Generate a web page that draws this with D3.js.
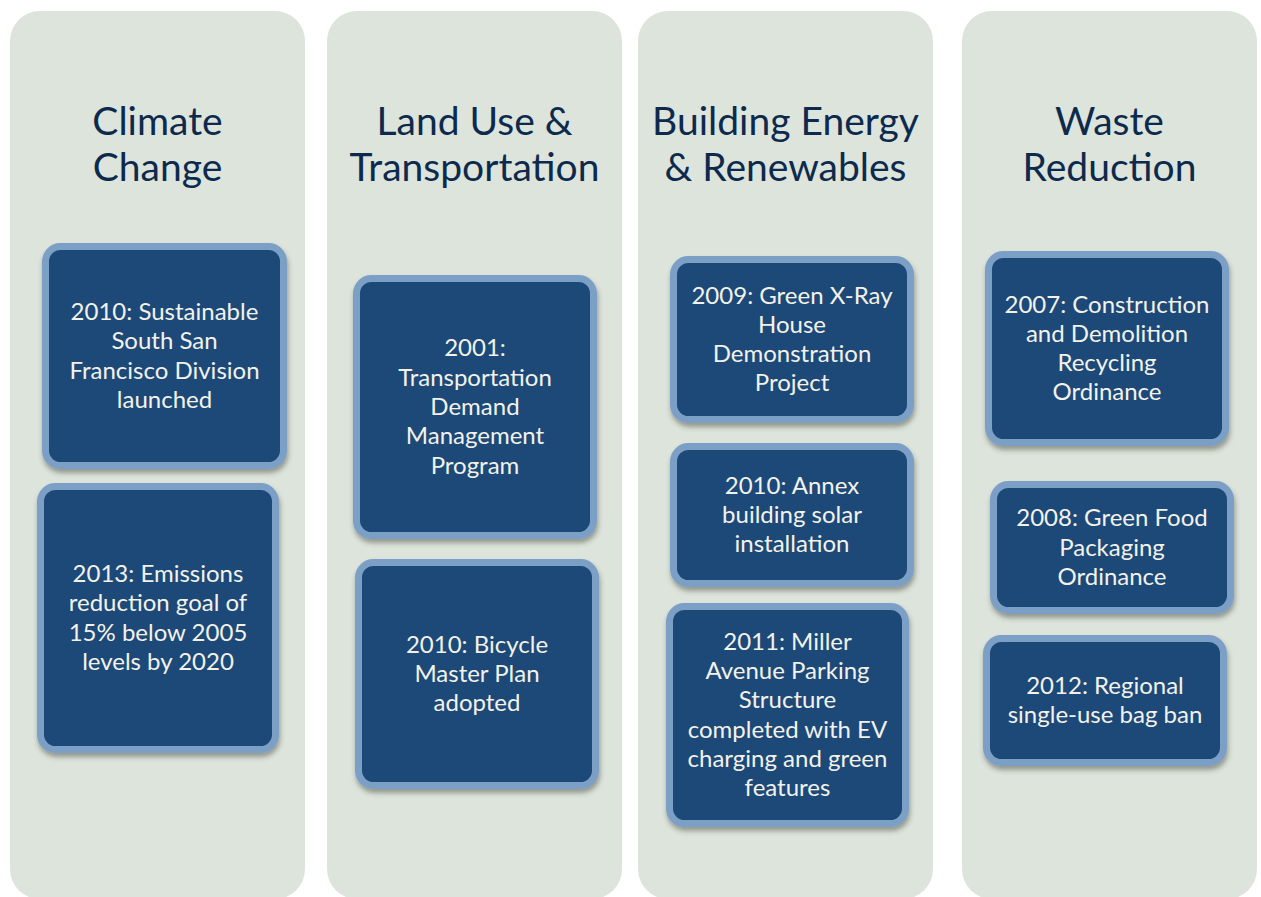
<!DOCTYPE html>
<html>
<head>
<meta charset="utf-8">
<script src="https://cdn.jsdelivr.net/npm/d3@7"></script>
<style>
  html, body { margin: 0; padding: 0; background: #fff; }
  svg { display: block; }
</style>
</head>
<body>
<div id="chart"></div>
<script>
// column titles and the milestones under them (lines broken as in the slide)
const categories = [
  ["Climate", "Change"],
  ["Land Use &", "Transportation"],
  ["Building Energy", "& Renewables"],
  ["Waste", "Reduction"]
];

const climate = [
  ["2010: Sustainable", "South San", "Francisco Division", "launched"],
  ["2013: Emissions", "reduction goal of", "15% below 2005", "levels by 2020"]
];
const landUse = [
  ["2001:", "Transportation", "Demand", "Management", "Program"],
  ["2010: Bicycle", "Master Plan", "adopted"]
];
const building = [
  ["2009: Green X-Ray", "House", "Demonstration", "Project"],
  ["2010: Annex", "building solar", "installation"],
  ["2011: Miller", "Avenue Parking", "Structure", "completed with EV", "charging and green", "features"]
];
const waste = [
  ["2007: Construction", "and Demolition", "Recycling", "Ordinance"],
  ["2008: Green Food", "Packaging", "Ordinance"],
  ["2012: Regional", "single-use bag ban"]
];
const milestones = [climate, landUse, building, waste];

// layout (outer box edges, px) kept apart from the data
const panelLeft = [10, 327, 638, 962];
const panelW = 295, panelTop = 11, panelBottom = 899;
const boxLayout = [
  [[42, 243, 287, 469], [37, 483, 279, 753]],
  [[353, 275, 597, 539], [355, 559, 599, 789]],
  [[670, 256, 914, 423], [670, 443, 914, 587], [666, 603, 909, 827]],
  [[985, 251, 1229, 446], [990, 481, 1234, 614], [983, 635, 1227, 766]]
];

const W = 1261, H = 897;
const svg = d3.select("#chart").append("svg")
  .attr("width", W).attr("height", H);

const defs = svg.append("defs");
const f = defs.append("filter").attr("id", "shadow")
  .attr("x", "-10%").attr("y", "-10%").attr("width", "125%").attr("height", "130%");
f.append("feDropShadow")
  .attr("dx", 1).attr("dy", 4).attr("stdDeviation", 2.5)
  .attr("flood-color", "#3a3a2a").attr("flood-opacity", 0.45);

const x = d3.scaleOrdinal().domain(d3.range(4)).range(panelLeft);

const col = svg.selectAll("g.col")
  .data(categories)
  .join("g")
  .attr("class", "col");

col.append("rect")
  .attr("x", (d, i) => x(i))
  .attr("y", panelTop)
  .attr("width", panelW)
  .attr("height", panelBottom - panelTop)
  .attr("rx", 30)
  .attr("fill", "#dce4dc");

col.append("text")
  .attr("text-anchor", "middle")
  .attr("font-family", "Lato, 'Open Sans', sans-serif")
  .attr("font-size", 39)
  .attr("fill", "#0d2a4d")
  .selectAll("tspan")
  .data((d, i) => d.map(s => ({ s, i })))
  .join("tspan")
  .attr("x", d => x(d.i) + panelW / 2)
  .attr("y", (d, j) => 135 + j * 46)
  .text(d => d.s);

const lh = 29.3;
col.each(function(c, i) {
  const g = d3.select(this);
  const items = milestones[i].map((lines, k) => ({ lines, b: boxLayout[i][k] }));
  const box = g.selectAll("g.box").data(items).join("g").attr("class", "box");

  box.append("rect")
    .attr("x", d => d.b[0] + 3.5)
    .attr("y", d => d.b[1] + 3.5)
    .attr("width", d => d.b[2] - d.b[0] - 7)
    .attr("height", d => d.b[3] - d.b[1] - 7)
    .attr("rx", 15)
    .attr("fill", "#1f4878")
    .attr("stroke", "#7c9fc6")
    .attr("stroke-width", 7)
    .attr("filter", "url(#shadow)");

  box.append("text")
    .attr("text-anchor", "middle")
    .attr("font-family", "Lato, 'Open Sans', sans-serif")
    .attr("font-size", 24)
    .attr("fill", "#f3f2ea")
    .selectAll("tspan")
    .data(d => d.lines.map((s, j) => ({ s, j, n: d.lines.length, b: d.b })))
    .join("tspan")
    .attr("x", d => (d.b[0] + d.b[2]) / 2)
    .attr("y", d => (d.b[1] + d.b[3]) / 2 + (d.j - (d.n - 1) / 2) * lh + 8)
    .text(d => d.s);
});
</script>
</body>
</html>
